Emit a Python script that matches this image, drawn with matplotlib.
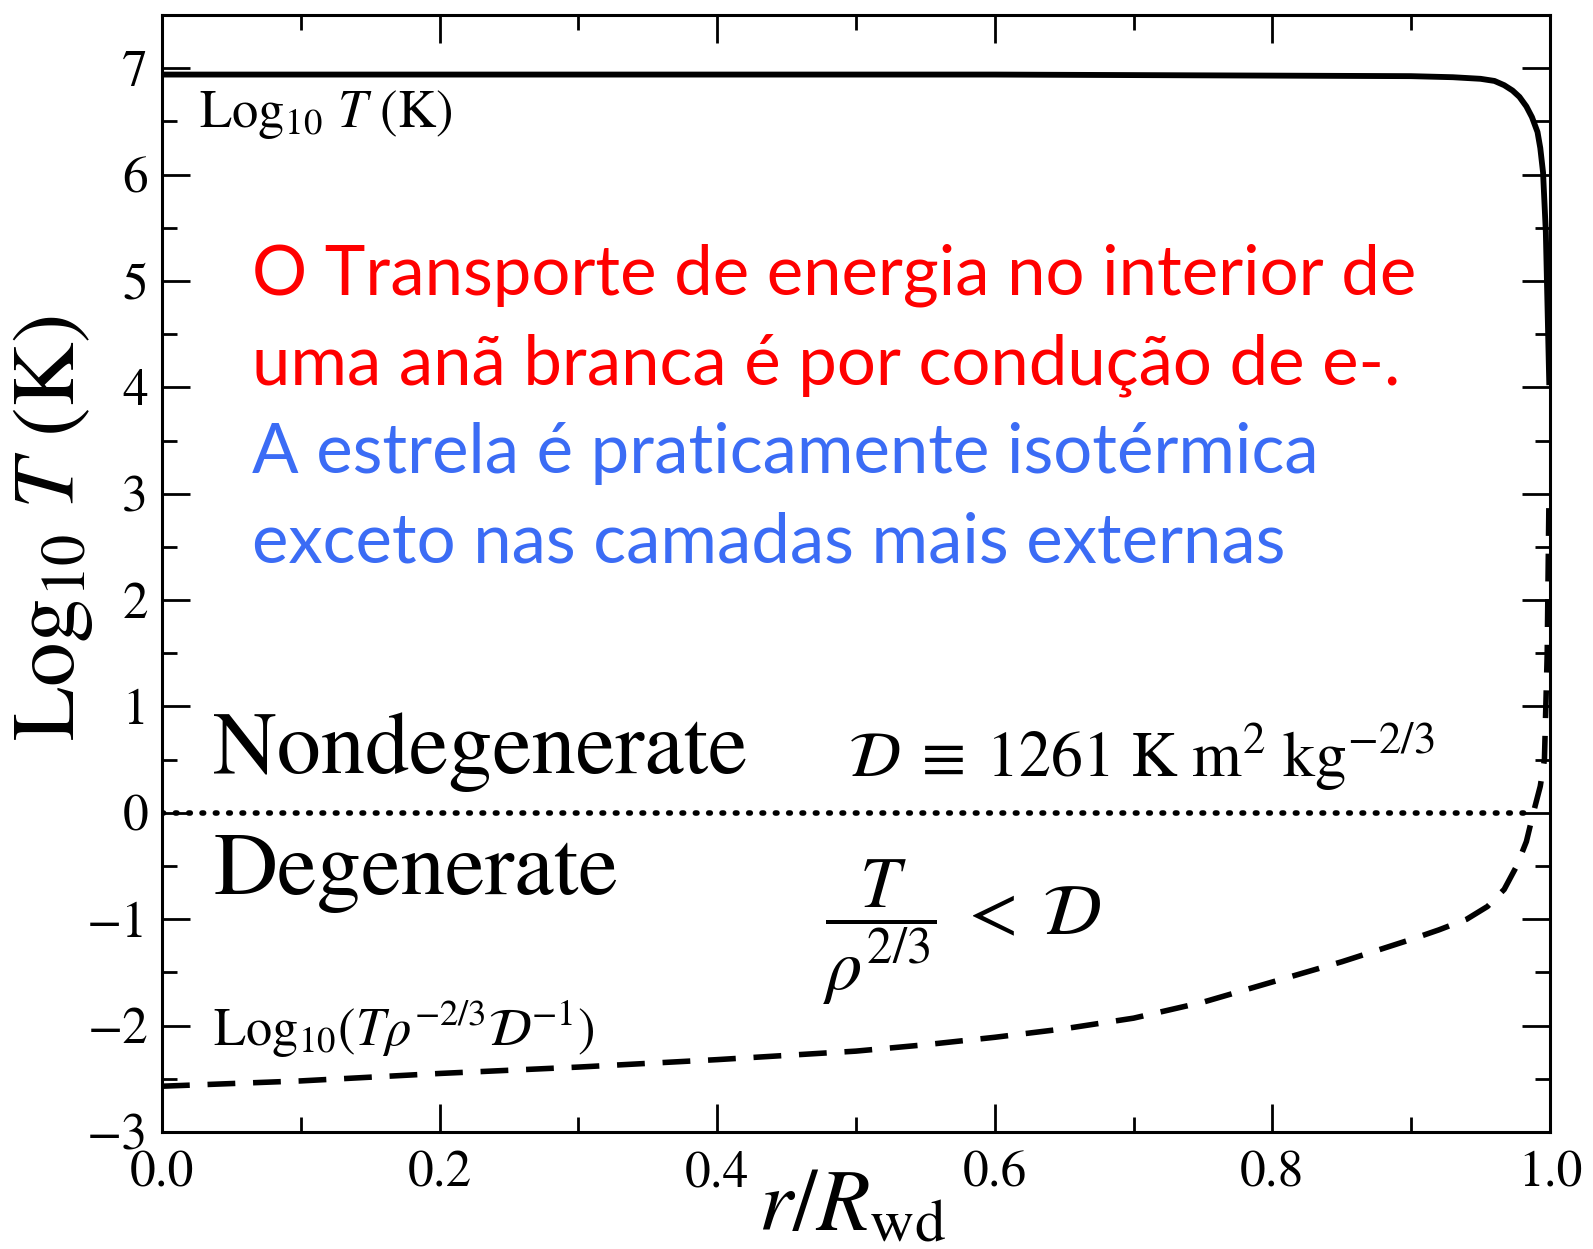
import matplotlib
matplotlib.use("Agg")
import matplotlib.pyplot as plt
from matplotlib.ticker import MultipleLocator

plt.rcParams['font.family'] = 'STIXGeneral'
plt.rcParams['mathtext.fontset'] = 'stix'

# temperature profile, Log10 T (K)
r_T = [0.0, 0.2, 0.4, 0.6, 0.8, 0.9, 0.93, 0.95, 0.96, 0.967, 0.973, 0.978, 0.983,
       0.987, 0.991, 0.993, 0.995, 0.997, 0.9985, 0.9995]
logT = [6.94, 6.94, 6.94, 6.94, 6.93, 6.925, 6.915, 6.90, 6.88, 6.84, 6.79, 6.73, 6.64,
        6.54, 6.40, 6.25, 6.02, 5.46, 4.6, 4.02]

# degeneracy parameter, Log10(T rho^-2/3 D^-1)
r_D = [0.0, 0.1, 0.2, 0.3, 0.4, 0.5, 0.55, 0.6, 0.65, 0.7, 0.75, 0.8, 0.85, 0.9, 0.92,
       0.94, 0.955, 0.967, 0.976, 0.983, 0.988, 0.993, 0.996, 0.998, 0.9993]
logD = [-2.57, -2.52, -2.45, -2.39, -2.32, -2.24, -2.18, -2.11, -2.03, -1.93, -1.78,
        -1.59, -1.40, -1.19, -1.10, -1.0, -0.88, -0.72, -0.5, -0.27, 0.0, 0.25, 0.5, 1.5, 3.0]

# boundary degenerate / nondegenerate
r_line = [0.0, 0.988]
zero_line = [0.0, 0.0]

red_lines = ["O Transporte de energia no interior de",
             "uma anã branca é por condução de e-."]
blue_lines = ["A estrela é praticamente isotérmica",
              "exceto nas camadas mais externas"]

fig = plt.figure(figsize=(15.93, 12.49), dpi=100)
ax = fig.add_axes([0.1017, 0.0937, 0.9730 - 0.1017, 0.988 - 0.0937])

ax.plot(r_T, logT, color='black', lw=4.2, solid_capstyle='butt')
ax.plot(r_D, logD, color='black', lw=4.0, dashes=(5, 3.2))
ax.plot(r_line, zero_line, color='black', lw=4.0, linestyle=(0, (0.3, 2.1)),
        dash_capstyle='round')

ax.set_xlim(0, 1.0)
ax.set_ylim(-3, 7.5)
ax.xaxis.set_major_locator(MultipleLocator(0.2))
ax.xaxis.set_minor_locator(MultipleLocator(0.1))
ax.yaxis.set_major_locator(MultipleLocator(1))
ax.yaxis.set_minor_locator(MultipleLocator(0.5))
ax.set_xticks([0.0, 0.2, 0.4, 0.6, 0.8, 1.0])
ax.set_xticklabels(['0.0', '0.2', '0.4', '0.6', '0.8', '1.0'])

ax.tick_params(which='both', direction='in', top=True, right=True, width=2.0)
ax.tick_params(which='major', length=20, labelsize=37)
ax.tick_params(which='minor', length=11)
ax.tick_params(axis='x', pad=14)
ax.tick_params(axis='y', pad=10)
for s in ax.spines.values():
    s.set_linewidth(2.2)

fig.text(0.535, 0.0, r'$r/R_{\rm wd}$', fontsize=63, ha='center', va='bottom')
fig.text(0.033, 0.577, r'Log$_{10}$ $T$ (K)', fontsize=64, rotation=90,
         ha='center', va='center')

ax.text(0.027, 6.45, r'Log$_{10}$ $T$ (K)', fontsize=38, va='baseline')
ax.text(0.037, 0.37, 'Nondegenerate', fontsize=63.5, va='baseline')
ax.text(0.037, -0.76, 'Degenerate', fontsize=64, va='baseline')
ax.text(0.494, 0.34, r'$\mathcal{D}\;\equiv\;1261\ \mathrm{K\ m^2\ kg^{-2/3}}$',
        fontsize=46, va='baseline')
ax.text(0.476, -1.12, r'$\dfrac{T}{\rho^{2/3}}\;<\;\mathcal{D}$', fontsize=52, va='center')
ax.text(0.037, -2.19, r'Log$_{10}$($T\rho^{-2/3}\mathcal{D}^{-1}$)', fontsize=37.8,
        va='baseline')

y0 = 4.87
for i, line in enumerate(red_lines + blue_lines):
    col = '#ff0000' if i < 2 else '#3b6cf5'
    ax.text(0.065, y0 - 0.84 * i, line, fontsize=49.6, family='Lato', color=col,
            va='baseline')

fig.savefig('out.png', dpi=100)
